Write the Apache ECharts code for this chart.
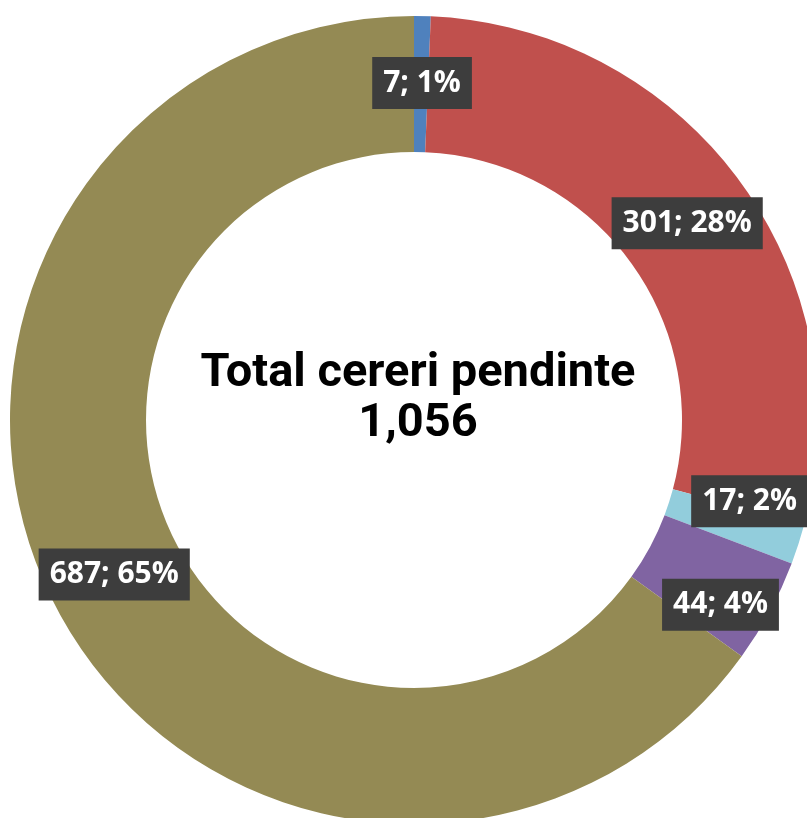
<!DOCTYPE html>
<html>
<head>
<meta charset="utf-8">
<script src="https://cdn.jsdelivr.net/npm/echarts@6/dist/echarts.min.js"></script>
<style>
html,body{margin:0;padding:0;background:#fff;}
#chart{width:807px;height:818px;}
</style>
</head>
<body>
<div id="chart"></div>
<script>
const categories = ['Categoria 1', 'Categoria 2', 'Categoria 3', 'Categoria 4', 'Categoria 5'];
const values = [7, 301, 17, 44, 687];
const percents = [1, 28, 2, 4, 65];
const colors = ['#4f81bd', '#c0504d', '#92cddc', '#8064a2', '#948a54'];
const centerTitle = 'Total cereri pendinte';
const centerTotal = '1,056';

// label nudges (pixels) used to separate crowded labels, like the original
const labelShift = [[1, 2], [0, 4], [13, -23], [8, 24], [2, 0]];

const chart = echarts.init(document.getElementById('chart'));
chart.setOption({
  animation: false,
  color: colors,
  graphic: [{
    type: 'text',
    x: 418,
    y: 399,
    z: 100,
    style: {
      text: centerTitle + '\n' + centerTotal,
      font: 'bold 47px Roboto',
      fill: '#000',
      textAlign: 'center',
      textVerticalAlign: 'middle',
      lineHeight: 50
    }
  }],
  series: [{
    type: 'pie',
    center: [414, 420],
    radius: [268, 404],
    startAngle: 90,
    clockwise: true,
    avoidLabelOverlap: false,
    itemStyle: { borderWidth: 0 },
    label: {
      show: true,
      position: 'inside',
      formatter: function (p) { return values[p.dataIndex] + '; ' + percents[p.dataIndex] + '%'; },
      color: '#fff',
      fontFamily: 'Open Sans',
      fontWeight: 'bold',
      fontSize: 30,
      lineHeight: 36,
      backgroundColor: '#3d3d3d',
      padding: [9, 11, 7, 11]
    },
    labelLayout: function (p) {
      const s = labelShift[p.dataIndex];
      return { dx: s[0], dy: s[1] };
    },
    labelLine: { show: false },
    emphasis: { disabled: true },
    data: categories.map((c, i) => ({ name: c, value: values[i] }))
  }]
});
</script>
</body>
</html>
